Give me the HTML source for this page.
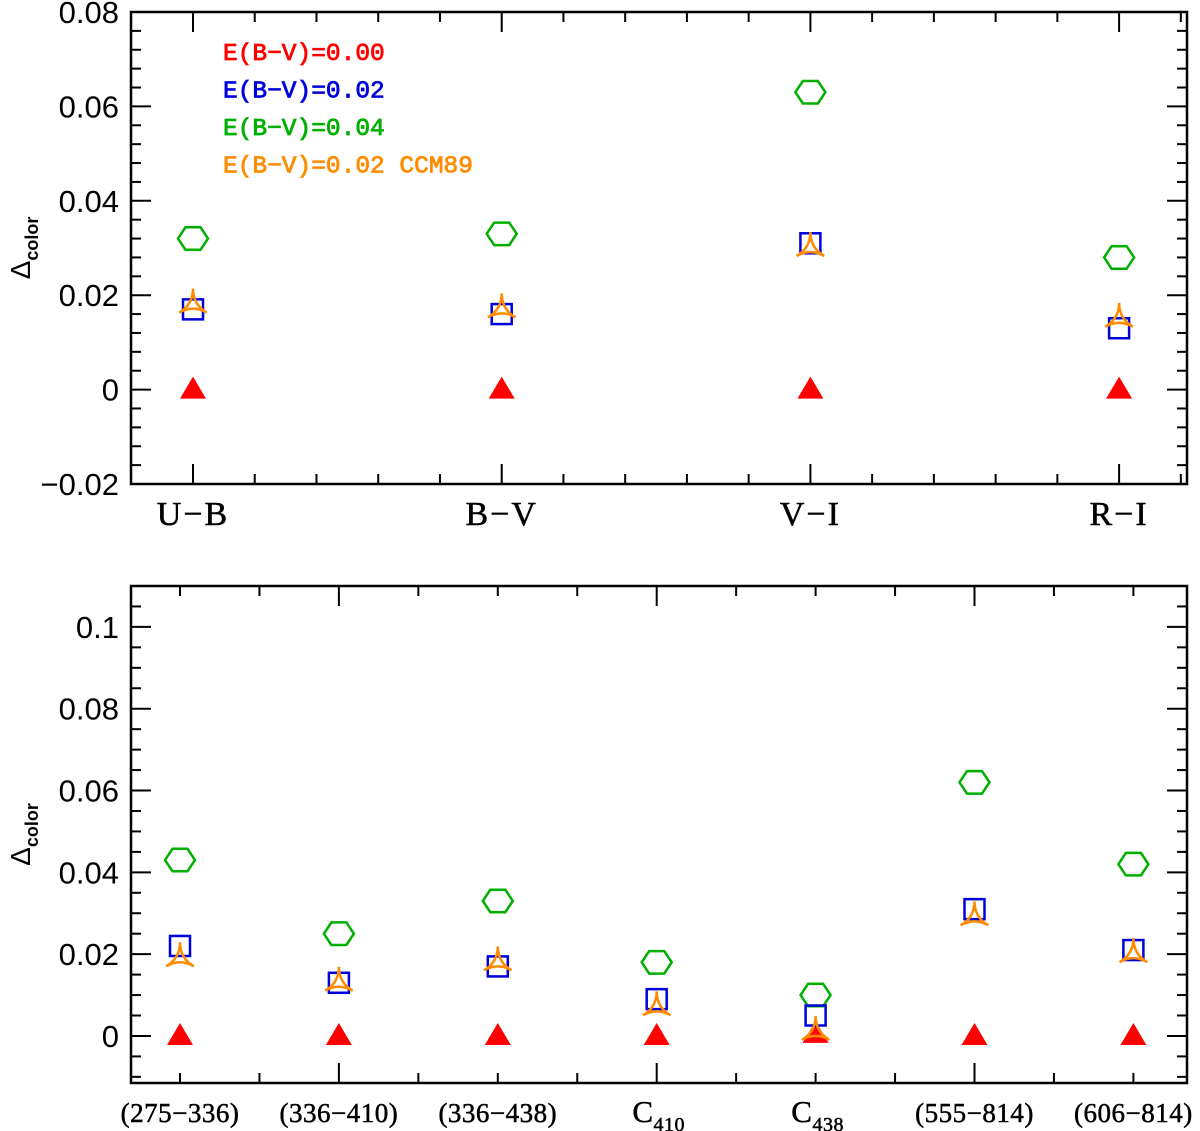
<!DOCTYPE html>
<html><head><meta charset="utf-8"><style>
html,body{margin:0;padding:0;background:#fff;}
svg{display:block;}
</style></head><body>
<svg id="chart" width="1200" height="1131" viewBox="0 0 1200 1131" xmlns="http://www.w3.org/2000/svg"></svg>
<script>
// ---- data ----
const topCats = ["U\u2212B","B\u2212V","V\u2212I","R\u2212I"];
const topRed = [0,0,0,0];
const topBlue = [0.017,0.016,0.031,0.013];
const topGreen = [0.032,0.033,0.063,0.028];
const topOrange = [0.018,0.017,0.030,0.015];
const topYTicks = [-0.02,0,0.02,0.04,0.06,0.08];
const topYLabels = ["\u22120.02","0","0.02","0.04","0.06","0.08"];

const botCats = ["(275\u2212336)","(336\u2212410)","(336\u2212438)","C|410","C|438","(555\u2212814)","(606\u2212814)"];
const botRed = [0,0,0,0,0.0005,0,0];
const botBlue = [0.022,0.013,0.017,0.009,0.005,0.031,0.021];
const botGreen = [0.043,0.025,0.033,0.018,0.010,0.062,0.042];
const botOrange = [0.019,0.013,0.018,0.007,0.001,0.029,0.020];
const botYTicks = [0,0.02,0.04,0.06,0.08,0.1];
const botYLabels = ["0","0.02","0.04","0.06","0.08","0.1"];

const legendLabels = ["E(B\u2212V)=0.00","E(B\u2212V)=0.02","E(B\u2212V)=0.04","E(B\u2212V)=0.02 CCM89"];

const NS="http://www.w3.org/2000/svg";
const svg=document.getElementById('chart');
function mk(tag,attrs,parent){const e=document.createElementNS(NS,tag);for(const k in attrs)e.setAttribute(k,attrs[k]);(parent||svg).appendChild(e);return e;}

const L=131,R=1187;
const COL={red:"#ff0000",blue:"#0000dd",green:"#00b000",orange:"#ff8c00"};

function marker(g,type,cx,cy){
  let e;
  if(type==='tri'){
    e=mk('polygon',{points:`${cx},${cy-13} ${cx-13},${cy+9} ${cx+13},${cy+9}`,fill:COL.red},g);
  }else if(type==='sq'){
    e=mk('rect',{x:cx-10,y:cy-10,width:20,height:20,fill:'none',stroke:COL.blue,'stroke-width':2.5},g);
  }else if(type==='hex'){
    const pts=[];for(let i=0;i<6;i++){const a=Math.PI/3*i;pts.push((cx+15*Math.cos(a)).toFixed(1)+','+(cy+13*Math.sin(a)).toFixed(1));}
    e=mk('polygon',{points:pts.join(' '),fill:'none',stroke:COL.green,'stroke-width':2.5},g);
  }else{
    const r=16;const p=[];for(let i=0;i<3;i++){const a=-Math.PI/2+i*2*Math.PI/3;p.push([cx+r*Math.cos(a),cy+r*Math.sin(a)]);}
    let d=`M${p[0][0]},${p[0][1]}`;for(let i=1;i<=3;i++){const q=p[i%3];d+=` Q${cx},${cy} ${q[0]},${q[1]}`;}
    e=mk('path',{d:d+'Z',fill:'none',stroke:COL.orange,'stroke-width':2.5},g);
  }
  return e;
}

function panel(name,T,B,ymin,ymax,yTicks,yLabels,yMinorStep,cats,series,xMinorDiv,majorEvery){
  const g=mk('g',{});
  
  
  const ys=v=>B-(v-ymin)/(ymax-ymin)*(B-T);
  const n=cats.length;
  const x0=L+ (name==='top-panel'?62:49);
  const dx=(name==='top-panel'?308.7:158.9);
  const xs=i=>x0+i*dx;
  const frame=mk('rect',{x:L,y:T,width:R-L,height:B-T,fill:'none',stroke:'#000','stroke-width':2.5},g);
  
  
  const start=Math.ceil(ymin/yMinorStep-1e-6);
  for(let k=start;k*yMinorStep<=ymax+1e-9;k++){
    const v=k*yMinorStep;const y=ys(v);
    const major=yTicks.some(t=>Math.abs(t-v)<1e-9);
    const len=major?20:10;
    mk('line',{x1:L,y1:y,x2:L+len,y2:y,stroke:'#000','stroke-width':2},g);
    mk('line',{x1:R,y1:y,x2:R-len,y2:y,stroke:'#000','stroke-width':2},g);
  }
  yTicks.forEach((t,i)=>{
    const tx=mk('text',{x:L-12,y:ys(t)+11,'text-anchor':'end','font-family':'Liberation Sans, sans-serif','font-size':31},g);
    tx.textContent=yLabels[i];
    
    
  });
  for(let k=-xMinorDiv;k<=n*xMinorDiv;k++){
    const x=x0+k*dx/xMinorDiv;
    if(x<L+2||x>R-2)continue;
    let major;
    if(majorEvery===1) major=(k%xMinorDiv===0);
    else major=(k%xMinorDiv===0)&&(((k/xMinorDiv)%2+2)%2===1);
    const len=major?20:10;
    mk('line',{x1:x,y1:B,x2:x,y2:B-len,stroke:'#000','stroke-width':2},g);
    mk('line',{x1:x,y1:T,x2:x,y2:T+len,stroke:'#000','stroke-width':2},g);
  }
  const isTop=name==='top-panel';
  cats.forEach((c,i)=>{
    const parts=c.split('|');
    const tx=mk('text',{x:xs(i),y:B+(isTop?41:39),'text-anchor':'middle','font-family':'Liberation Serif, serif','font-size':isTop?34:27,'letter-spacing':isTop?2:0.5,stroke:'#000','stroke-width':0.5},g);
    
    
    if(parts.length===1){tx.textContent=c;}
    else{
      const a=mk('tspan',{'font-size':31},tx);a.textContent=parts[0];
      const b=mk('tspan',{dy:9,'font-size':20},tx);b.textContent=parts[1];
      tx.setAttribute('x',xs(i)+2);
    }
  });
  const at=mk('text',{transform:`translate(30,${(T+B)/2}) rotate(-90)`,'text-anchor':'middle','font-family':'Liberation Sans, sans-serif','font-size':28},g);
  
  
  const a1=mk('tspan',{},at);a1.textContent='\u0394';
  const a2=mk('tspan',{dy:8,'font-size':18,'font-weight':'bold'},at);a2.textContent='color';
  const order=[['tri',series.red,'red-series'],['hex',series.green,'green-series'],['sq',series.blue,'blue-series'],['star',series.orange,'orange-series']];
  order.forEach(([type,vals,nm])=>{
    const sg=mk('g',{},g);
    
    
    vals.forEach((v,i)=>{
      const m=marker(sg,type,xs(i),ys(v));
      
      
    });
  });
}

panel('top-panel',12,484,-0.02,0.08,topYTicks,topYLabels,0.004,topCats,
  {red:topRed,blue:topBlue,green:topGreen,orange:topOrange},5,1);
panel('bottom-panel',586,1083,-0.0115,0.11,botYTicks,botYLabels,0.005,botCats,
  {red:botRed,blue:botBlue,green:botGreen,orange:botOrange},2,2);

const lg=mk('g',{});


const lc=[COL.red,COL.blue,COL.green,COL.orange];
legendLabels.forEach((t,i)=>{
  const tx=mk('text',{x:223,y:60+i*37.5,fill:lc[i],'font-family':'Liberation Mono, monospace','font-size':24.5,'xml:space':'preserve',stroke:lc[i],'stroke-width':0.8},lg);
  tx.textContent=t;
  
  
});
</script>
</body></html>
